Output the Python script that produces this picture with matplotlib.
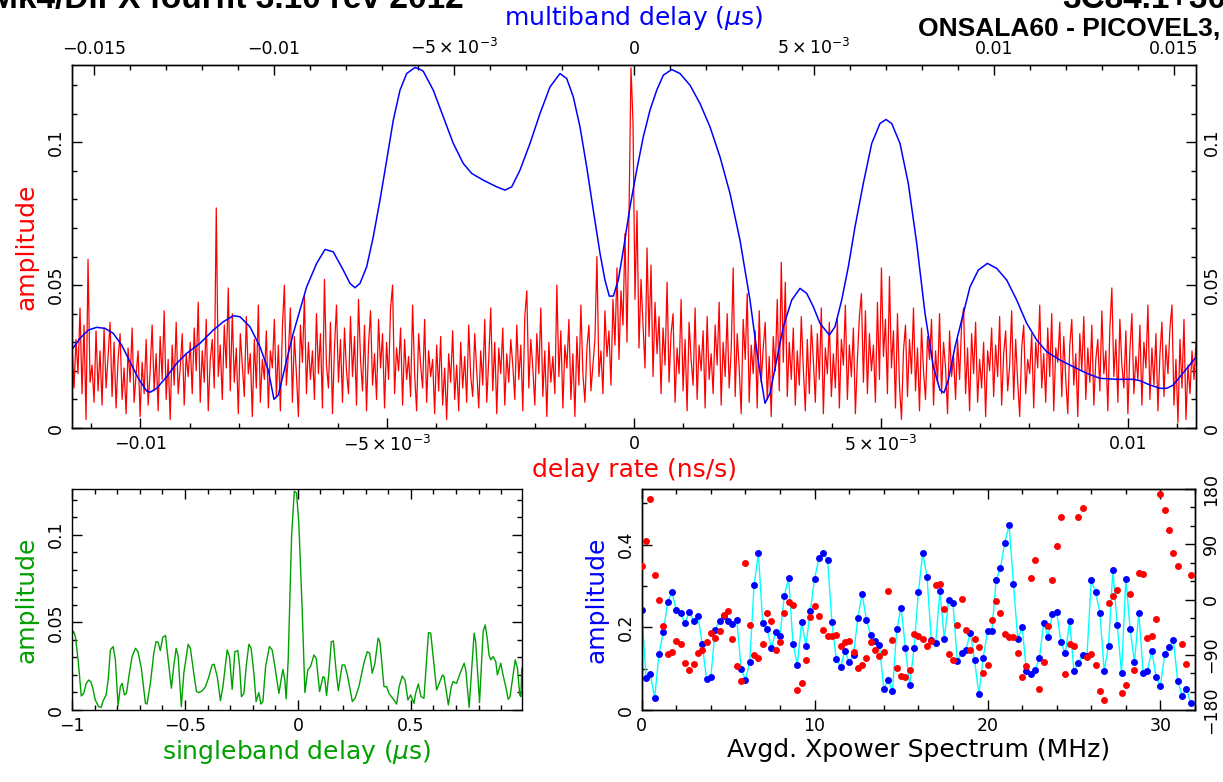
import numpy as np
import matplotlib
matplotlib.use('Agg')
import matplotlib.pyplot as plt
from matplotlib.ticker import MultipleLocator, FuncFormatter

plt.rcParams['font.family'] = ['DejaVu Sans']
plt.rcParams['mathtext.fontset'] = 'dejavusans'

RED = '#ff0000'
BLUE = '#0000ff'
GREEN = '#00a000'
CYAN = '#00ffff'

RATE_LIM = 0.01138     # delay rate half range (ns/s)
MBD_LIM = 0.01561      # multiband delay half range (us)

# delay rate amplitude, evenly spaced over +-RATE_LIM
rate_amp = [
    0.028, 0.014, 0.031, 0.019, 0.042, 0.012, 0.036, 0.003, 0.059, 0.016, 0.022, 0.009, 0.034, 0.013, 0.027, 0.008, 0.035, 0.014, 0.025, 0.037,
    0.011, 0.030, 0.007, 0.024, 0.033, 0.010, 0.021, 0.005, 0.028, 0.016, 0.035, 0.009, 0.019, 0.027, 0.004, 0.023, 0.012, 0.031, 0.008, 0.020,
    0.036, 0.013, 0.026, 0.006, 0.032, 0.017, 0.041, 0.010, 0.024, 0.003, 0.029, 0.015, 0.037, 0.012, 0.021, 0.033, 0.008, 0.026, 0.018, 0.030,
    0.012, 0.035, 0.020, 0.044, 0.009, 0.027, 0.016, 0.038, 0.006, 0.024, 0.031, 0.014, 0.077, 0.018, 0.029, 0.010, 0.036, 0.021, 0.049, 0.013,
    0.040, 0.016, 0.028, 0.005, 0.033, 0.022, 0.011, 0.039, 0.019, 0.026, 0.004, 0.031, 0.014, 0.043, 0.009, 0.024, 0.017, 0.034, 0.007, 0.027,
    0.021, 0.038, 0.011, 0.029, 0.006, 0.035, 0.050, 0.015, 0.026, 0.042, 0.009, 0.032, 0.019, 0.004, 0.036, 0.023, 0.046, 0.012, 0.030, 0.017,
    0.027, 0.010, 0.040, 0.019, 0.033, 0.007, 0.052, 0.022, 0.014, 0.037, 0.005, 0.028, 0.043, 0.016, 0.031, 0.009, 0.035, 0.020, 0.012, 0.039,
    0.018, 0.032, 0.008, 0.045, 0.024, 0.013, 0.036, 0.006, 0.029, 0.041, 0.015, 0.026, 0.010, 0.038, 0.021, 0.033, 0.007, 0.030, 0.017, 0.042,
    0.050, 0.012, 0.028, 0.020, 0.035, 0.008, 0.031, 0.017, 0.025, 0.011, 0.043, 0.019, 0.006, 0.033, 0.022, 0.014, 0.038, 0.009, 0.027, 0.018,
    0.024, 0.005, 0.029, 0.013, 0.032, 0.008, 0.021, 0.003, 0.026, 0.016, 0.034, 0.010, 0.022, 0.006, 0.030, 0.014, 0.025, 0.009, 0.036, 0.018,
    0.011, 0.033, 0.020, 0.007, 0.027, 0.015, 0.038, 0.009, 0.024, 0.042, 0.013, 0.030, 0.005, 0.028, 0.019, 0.035, 0.008, 0.026, 0.016, 0.031,
    0.022, 0.010, 0.036, 0.017, 0.029, 0.006, 0.039, 0.048, 0.014, 0.031, 0.021, 0.008, 0.033, 0.019, 0.042, 0.011, 0.027, 0.004, 0.030, 0.016,
    0.025, 0.012, 0.050, 0.018, 0.034, 0.007, 0.029, 0.021, 0.038, 0.010, 0.026, 0.004, 0.032, 0.015, 0.043, 0.019, 0.009, 0.028, 0.036, 0.013,
    0.022, 0.031, 0.060, 0.018, 0.027, 0.012, 0.041, 0.025, 0.034, 0.015, 0.045, 0.029, 0.056, 0.024, 0.048, 0.036, 0.068, 0.030, 0.074, 0.126,
    0.107, 0.045, 0.076, 0.028, 0.052, 0.036, 0.021, 0.063, 0.032, 0.057, 0.018, 0.044, 0.026, 0.039, 0.012, 0.035, 0.022, 0.051, 0.016, 0.033,
    0.040, 0.009, 0.028, 0.019, 0.045, 0.013, 0.031, 0.006, 0.037, 0.024, 0.015, 0.042, 0.010, 0.029, 0.020, 0.034, 0.007, 0.039, 0.017, 0.026,
    0.012, 0.036, 0.022, 0.044, 0.008, 0.030, 0.018, 0.040, 0.014, 0.027, 0.056, 0.011, 0.033, 0.021, 0.005, 0.038, 0.024, 0.047, 0.009, 0.029,
    0.019, 0.034, 0.007, 0.041, 0.016, 0.028, 0.037, 0.010, 0.025, 0.004, 0.032, 0.020, 0.045, 0.013, 0.058, 0.023, 0.051, 0.011, 0.030, 0.017,
    0.035, 0.008, 0.027, 0.015, 0.039, 0.021, 0.006, 0.031, 0.012, 0.036, 0.024, 0.009, 0.033, 0.017, 0.042, 0.005, 0.028, 0.019, 0.037, 0.011,
    0.026, 0.014, 0.038, 0.007, 0.031, 0.022, 0.043, 0.010, 0.029, 0.018, 0.035, 0.005, 0.024, 0.039, 0.047, 0.016, 0.041, 0.012, 0.033, 0.020,
    0.029, 0.009, 0.044, 0.017, 0.056, 0.025, 0.038, 0.012, 0.053, 0.021, 0.034, 0.007, 0.040, 0.015, 0.003, 0.027, 0.036, 0.011, 0.031, 0.019,
    0.042, 0.013, 0.028, 0.006, 0.035, 0.020, 0.010, 0.032, 0.024, 0.038, 0.008, 0.027, 0.016, 0.040, 0.012, 0.030, 0.021, 0.005, 0.034, 0.018,
    0.025, 0.010, 0.031, 0.017, 0.036, 0.042, 0.012, 0.028, 0.006, 0.033, 0.019, 0.037, 0.009, 0.024, 0.014, 0.030, 0.004, 0.027, 0.020, 0.035,
    0.011, 0.029, 0.018, 0.039, 0.008, 0.026, 0.034, 0.013, 0.022, 0.041, 0.010, 0.031, 0.016, 0.004, 0.028, 0.036, 0.012, 0.024, 0.019, 0.033,
    0.007, 0.030, 0.021, 0.043, 0.014, 0.026, 0.009, 0.035, 0.018, 0.040, 0.006, 0.028, 0.023, 0.037, 0.011, 0.032, 0.017, 0.005, 0.029, 0.038,
    0.015, 0.026, 0.004, 0.033, 0.020, 0.039, 0.010, 0.028, 0.016, 0.036, 0.008, 0.024, 0.031, 0.013, 0.041, 0.019, 0.027, 0.006, 0.035, 0.049,
    0.018, 0.031, 0.009, 0.038, 0.022, 0.014, 0.034, 0.005, 0.027, 0.040, 0.012, 0.025, 0.017, 0.036, 0.008, 0.030, 0.021, 0.043, 0.010, 0.028,
    0.015, 0.033, 0.006, 0.026, 0.037, 0.011, 0.029, 0.019, 0.035, 0.043, 0.008, 0.024, 0.002, 0.031, 0.014, 0.038, 0.003, 0.022, 0.012, 0.027,
    0.017, 0.030,
]

# multiband delay amplitude
mbd_x = [
    -0.015619, -0.015389, -0.015158, -0.014925, -0.014694, -0.014464, -0.014231, -0.014000, -0.013769, -0.013536,
    -0.013444, -0.013258, -0.012981, -0.012703, -0.012425, -0.012056, -0.011686, -0.011408, -0.011131, -0.010944,
    -0.010667, -0.010389, -0.010158, -0.010000, -0.009880, -0.009647, -0.009464, -0.009278, -0.009092, -0.008814,
    -0.008583, -0.008353, -0.008075, -0.007889, -0.007750, -0.007611, -0.007425, -0.007242, -0.007056, -0.006869,
    -0.006686, -0.006500, -0.006314, -0.006083, -0.005944, -0.005853, -0.005575, -0.005297, -0.005019, -0.004742,
    -0.004508, -0.004186, -0.003814, -0.003583, -0.003397, -0.003167, -0.002889, -0.002611, -0.002333, -0.002056,
    -0.001869, -0.001686, -0.001500, -0.001314, -0.001131, -0.000944, -0.000806, -0.000686, -0.000575, -0.000436,
    -0.000297, -0.000111, 0.000075, 0.000258, 0.000444, 0.000631, 0.000814, 0.001047, 0.001278, 0.001556,
    0.001833, 0.002111, 0.002389, 0.002667, 0.002944, 0.003222, 0.003408, 0.003547, 0.003639, 0.003778,
    0.003964, 0.004147, 0.004381, 0.004611, 0.004797, 0.004981, 0.005167, 0.005425, 0.005583, 0.005769,
    0.005953, 0.006139, 0.006369, 0.006603, 0.006833, 0.007000, 0.007158, 0.007389, 0.007619, 0.007853,
    0.008083, 0.008314, 0.008500, 0.008611, 0.008730, 0.008917, 0.009147, 0.009333, 0.009564, 0.009814,
    0.010075, 0.010353, 0.010630, 0.010908, 0.011186, 0.011464, 0.011833, 0.012203, 0.012575, 0.012944,
    0.013408, 0.013870, 0.014056, 0.014333, 0.014611, 0.014797, 0.014980, 0.015167, 0.015353, 0.015583,
]
mbd_amp = [
    0.02727, 0.03136, 0.03427, 0.03521, 0.03486, 0.03311, 0.02902, 0.02318, 0.01738, 0.01294,
    0.01248, 0.01388, 0.01794, 0.02262, 0.02612, 0.02962, 0.03427, 0.03717, 0.03927, 0.03892,
    0.03542, 0.02843, 0.02028, 0.01003, 0.01154, 0.02378, 0.03311, 0.04126, 0.04941, 0.05759,
    0.06248, 0.06164, 0.05524, 0.05059, 0.04906, 0.05059, 0.05640, 0.06689, 0.07972, 0.09371,
    0.10769, 0.11818, 0.12402, 0.12612, 0.12550, 0.12480, 0.11818, 0.10885, 0.09955, 0.09255,
    0.08906, 0.08671, 0.08437, 0.08322, 0.08437, 0.09021, 0.09955, 0.11003, 0.11934, 0.12402,
    0.12227, 0.11584, 0.10535, 0.09136, 0.07622, 0.06108, 0.05175, 0.04615, 0.04615, 0.05175,
    0.06224, 0.07738, 0.09021, 0.10185, 0.11119, 0.11818, 0.12343, 0.12542, 0.12402, 0.11993,
    0.11353, 0.10535, 0.09486, 0.08206, 0.06573, 0.04476, 0.02727, 0.01563, 0.00864, 0.01213,
    0.02378, 0.03542, 0.04476, 0.04885, 0.04710, 0.04241, 0.03661, 0.03252, 0.03542, 0.04476,
    0.05640, 0.07038, 0.08556, 0.09955, 0.10654, 0.10794, 0.10654, 0.09955, 0.08556, 0.06458,
    0.04010, 0.02143, 0.01329, 0.01234, 0.01678, 0.02843, 0.04010, 0.04941, 0.05524, 0.05759,
    0.05584, 0.05175, 0.04476, 0.03661, 0.03077, 0.02668, 0.02378, 0.02143, 0.01913, 0.01738,
    0.01703, 0.01703, 0.01654, 0.01503, 0.01388, 0.01388, 0.01503, 0.01794, 0.02087, 0.02437,
]

# singleband delay amplitude
sbd_x = [
    -1.000, -0.993, -0.985, -0.973, -0.959, -0.948, -0.938, -0.926, -0.917, -0.908,
    -0.897, -0.882, -0.871, -0.862, -0.849, -0.840, -0.830, -0.818, -0.808, -0.796,
    -0.786, -0.778, -0.768, -0.759, -0.746, -0.734, -0.719, -0.708, -0.693, -0.675,
    -0.668, -0.653, -0.638, -0.628, -0.619, -0.609, -0.598, -0.586, -0.576, -0.560,
    -0.549, -0.539, -0.530, -0.516, -0.505, -0.486, -0.476, -0.461, -0.449, -0.439,
    -0.424, -0.409, -0.394, -0.380, -0.371, -0.357, -0.343, -0.332, -0.313, -0.303,
    -0.291, -0.279, -0.266, -0.258, -0.250, -0.239, -0.229, -0.217, -0.207, -0.195,
    -0.185, -0.173, -0.164, -0.155, -0.143, -0.126, -0.114, -0.103, -0.084, -0.072,
    -0.066, -0.058, -0.052, -0.043, -0.028, -0.016, -0.006, 0.004, 0.019, 0.031,
    0.044, 0.056, 0.071, 0.081, 0.096, 0.111, 0.118, 0.127, 0.137, 0.148,
    0.157, 0.170, 0.179, 0.196, 0.207, 0.219, 0.241, 0.253, 0.270, 0.292,
    0.307, 0.318, 0.329, 0.341, 0.355, 0.363, 0.381, 0.393, 0.403, 0.425,
    0.437, 0.448, 0.462, 0.474, 0.487, 0.499, 0.514, 0.521, 0.533, 0.545,
    0.558, 0.578, 0.588, 0.603, 0.614, 0.640, 0.647, 0.666, 0.679, 0.687,
    0.702, 0.718, 0.736, 0.743, 0.758, 0.780, 0.787, 0.804, 0.820, 0.829,
    0.839, 0.846, 0.854, 0.864, 0.876, 0.883, 0.898, 0.908, 0.920, 0.931,
    0.939, 0.962, 0.972, 0.982, 0.987, 0.991,
]
sbd_amp = [
    0.0429, 0.0448, 0.0419, 0.0286, 0.0080, 0.0095, 0.0149, 0.0171, 0.0162, 0.0124,
    0.0057, 0.0019, 0.0015, 0.0053, 0.0086, 0.0171, 0.0343, 0.0362, 0.0286, 0.0023,
    0.0133, 0.0152, 0.0086, 0.0095, 0.0210, 0.0305, 0.0352, 0.0333, 0.0238, 0.0038,
    0.0034, 0.0152, 0.0324, 0.0390, 0.0387, 0.0339, 0.0415, 0.0425, 0.0305, 0.0124,
    0.0257, 0.0352, 0.0305, 0.0019, 0.0210, 0.0375, 0.0352, 0.0210, 0.0105, 0.0099,
    0.0109, 0.0133, 0.0190, 0.0257, 0.0261, 0.0190, 0.0053, 0.0133, 0.0343, 0.0305,
    0.0118, 0.0333, 0.0339, 0.0248, 0.0076, 0.0095, 0.0248, 0.0375, 0.0352, 0.0210,
    0.0048, 0.0099, 0.0034, 0.0048, 0.0248, 0.0362, 0.0343, 0.0257, 0.0095, 0.0190,
    0.0232, 0.0171, 0.0063, 0.0286, 0.0990, 0.1248, 0.1238, 0.1067, 0.0571, 0.0099,
    0.0229, 0.0248, 0.0314, 0.0295, 0.0105, 0.0190, 0.0185, 0.0082, 0.0210, 0.0390,
    0.0394, 0.0210, 0.0110, 0.0257, 0.0257, 0.0200, 0.0048, 0.0067, 0.0133, 0.0267,
    0.0333, 0.0324, 0.0210, 0.0267, 0.0410, 0.0390, 0.0133, 0.0133, 0.0095, 0.0057,
    0.0034, 0.0133, 0.0194, 0.0171, 0.0057, 0.0086, 0.0038, 0.0095, 0.0149, 0.0076,
    0.0067, 0.0442, 0.0438, 0.0248, 0.0114, 0.0200, 0.0190, 0.0029, 0.0133, 0.0162,
    0.0152, 0.0210, 0.0267, 0.0229, 0.0015, 0.0438, 0.0390, 0.0042, 0.0448, 0.0486,
    0.0400, 0.0314, 0.0286, 0.0305, 0.0276, 0.0200, 0.0267, 0.0200, 0.0133, 0.0061,
    0.0076, 0.0286, 0.0238, 0.0086, 0.0076, 0.0238,
]

# averaged cross power spectrum, 128 channels of 0.25 MHz
xp_amp = [
    0.242, 0.078, 0.087, 0.029, 0.136, 0.188, 0.262, 0.285, 0.242, 0.235,
    0.210, 0.238, 0.215, 0.228, 0.160, 0.075, 0.080, 0.194, 0.215, 0.228,
    0.215, 0.208, 0.218, 0.100, 0.073, 0.117, 0.303, 0.379, 0.210, 0.196,
    0.151, 0.188, 0.180, 0.277, 0.319, 0.160, 0.110, 0.212, 0.156, 0.240,
    0.318, 0.367, 0.381, 0.363, 0.213, 0.124, 0.104, 0.144, 0.115, 0.134,
    0.223, 0.281, 0.217, 0.182, 0.166, 0.157, 0.051, 0.072, 0.045, 0.195,
    0.248, 0.151, 0.060, 0.149, 0.285, 0.379, 0.323, 0.169, 0.161, 0.289,
    0.171, 0.266, 0.260, 0.119, 0.137, 0.145, 0.187, 0.121, 0.038, 0.127,
    0.191, 0.191, 0.315, 0.344, 0.405, 0.447, 0.306, 0.171, 0.202, 0.095,
    0.087, 0.097, 0.125, 0.211, 0.177, 0.232, 0.238, 0.164, 0.137, 0.216,
    0.095, 0.113, 0.133, 0.130, 0.315, 0.285, 0.236, 0.094, 0.156, 0.339,
    0.206, 0.090, 0.317, 0.196, 0.115, 0.236, 0.090, 0.095, 0.144, 0.079,
    0.059, 0.135, 0.152, 0.169, 0.070, 0.035, 0.052, 0.018,
]
xp_phase = [
    55, 96, 163, 40, -1, -43, -89, -86, -67, -72,
    -104, -115, -105, -87, -83, -70, -54, -63, -52, -26,
    -18, -65, -108, -132, 59, -41, -91, -96, -73, -22,
    -35, -83, -70, -22, -4, -9, -147, -136, -99, -29,
    -11, -27, -50, -60, -60, -58, -75, -70, -68, -86,
    -111, -107, -95, -70, -82, -92, -85, 14, -66, -111,
    -124, -127, -115, -57, -59, -64, -76, -67, 24, 25,
    -15, -88, -99, -41, 1, -49, -83, -64, -78, -119,
    -106, -33, -3, -22, -57, -61, -61, -87, -127, -109,
    35, 65, -146, -102, -43, 32, 87, 135, -122, -73,
    -76, 134, 149, -93, -88, -107, -149, -164, -6, 6,
    16, -153, -139, 9, -115, 43, 42, -62, -60, -31,
    172, 146, 114, 76, 55, -72, -105, 40,
]

TICK_FS = 12.5
LABEL_FS = 18


def num_fmt(v, pos):
    if abs(v) < 1e-12:
        return '0'
    if abs(round(abs(v), 7) - 0.005) < 1e-9:
        return r'$-5\times10^{-3}$' if v < 0 else r'$5\times10^{-3}$'
    return ('%g' % round(v, 6)).replace('-', '\u2212')


def style_ticks(ax, **kw):
    ax.tick_params(which='both', direction='in', labelsize=TICK_FS, pad=5, **kw)
    ax.tick_params(which='major', length=7, width=1)
    ax.tick_params(which='minor', length=3.5, width=1)
    for s in ax.spines.values():
        s.set_linewidth(1)


def rotate_ylabels(ax):
    for lab in ax.get_yticklabels():
        lab.set_rotation(90)
        lab.set_va('center')


fig = plt.figure(figsize=(12.23, 7.82), dpi=100)

# ---------- top panel: delay rate + multiband delay ----------
ax = fig.add_axes([72 / 1223, 1 - 428 / 782, 1124 / 1223, 363 / 782])
rate_x = np.linspace(-RATE_LIM, RATE_LIM, len(rate_amp))
ax.plot(rate_x, rate_amp, color=RED, lw=0.9)
ax.set_xlim(-RATE_LIM, RATE_LIM)
ax.set_ylim(0, 0.127)
ax.xaxis.set_major_locator(MultipleLocator(0.005))
ax.xaxis.set_minor_locator(MultipleLocator(0.001))
ax.xaxis.set_major_formatter(FuncFormatter(num_fmt))
ax.yaxis.set_major_locator(MultipleLocator(0.05))
ax.yaxis.set_minor_locator(MultipleLocator(0.01))
ax.yaxis.set_major_formatter(FuncFormatter(num_fmt))
style_ticks(ax, top=False, right=True, labelright=True)
ax.set_xlabel('delay rate (ns/s)', color=RED, fontsize=LABEL_FS, labelpad=2)
ax.set_ylabel('amplitude', color=RED, fontsize=LABEL_FS, labelpad=6)
rotate_ylabels(ax)

ax_top = ax.twiny()
ax_top.plot(mbd_x, mbd_amp, color=BLUE, lw=1.1)
ax_top.set_xlim(-MBD_LIM, MBD_LIM)
ax_top.xaxis.set_major_locator(MultipleLocator(0.005))
ax_top.xaxis.set_minor_locator(MultipleLocator(0.001))
ax_top.xaxis.set_major_formatter(FuncFormatter(num_fmt))
style_ticks(ax_top)
ax_top.set_xlabel(r'multiband delay ($\mu$s)', color=BLUE, fontsize=LABEL_FS)
# label sits well above the top tick labels, as in the original
ax_top.xaxis.set_label_coords(0.5, (428 - 18) / 363)
ax_top.xaxis.label.set_va('center')

# ---------- bottom left: singleband delay ----------
ax_sb = fig.add_axes([72 / 1223, 1 - 710 / 782, 450 / 1223, 221 / 782])
ax_sb.plot(sbd_x, sbd_amp, color=GREEN, lw=1.0)
ax_sb.set_xlim(-1, 0.992)
ax_sb.set_ylim(0, 0.1261)
ax_sb.xaxis.set_major_locator(MultipleLocator(0.5))
ax_sb.xaxis.set_minor_locator(MultipleLocator(0.1))
ax_sb.xaxis.set_major_formatter(FuncFormatter(num_fmt))
ax_sb.yaxis.set_major_locator(MultipleLocator(0.05))
ax_sb.yaxis.set_minor_locator(MultipleLocator(0.01))
ax_sb.yaxis.set_major_formatter(FuncFormatter(num_fmt))
style_ticks(ax_sb, top=True, right=True)
ax_sb.set_xlabel(r'singleband delay ($\mu$s)', color=GREEN, fontsize=LABEL_FS, labelpad=2)
ax_sb.set_ylabel('amplitude', color=GREEN, fontsize=LABEL_FS, labelpad=6)
rotate_ylabels(ax_sb)

# ---------- bottom right: cross power spectrum ----------
ax_xp = fig.add_axes([641.7 / 1223, 1 - 710 / 782, 553.3 / 1223, 221 / 782])
freq = np.arange(len(xp_amp)) * 0.25
ax_xp.plot(freq, xp_amp, color=CYAN, lw=1.0, zorder=2)
ax_xp.plot(freq, xp_amp, 'o', color=BLUE, ms=5, mew=0, zorder=3)
ax_xp.set_xlim(0, 32)
ax_xp.set_ylim(0, 0.535)
ax_xp.xaxis.set_major_locator(MultipleLocator(10))
ax_xp.xaxis.set_minor_locator(MultipleLocator(2))
ax_xp.yaxis.set_major_locator(MultipleLocator(0.2))
ax_xp.yaxis.set_minor_locator(MultipleLocator(0.1))
ax_xp.yaxis.set_major_formatter(FuncFormatter(num_fmt))
style_ticks(ax_xp, top=True, right=False)
ax_xp.set_xlabel('Avgd. Xpower Spectrum (MHz)', color='black', fontsize=LABEL_FS, labelpad=2)
ax_xp.set_ylabel('amplitude', color=BLUE, fontsize=LABEL_FS, labelpad=6)
rotate_ylabels(ax_xp)

ax_ph = ax_xp.twinx()
ax_ph.plot(freq, xp_phase, 'o', color=RED, ms=5, mew=0, zorder=4)
ax_ph.set_ylim(-180, 180)
ax_ph.yaxis.set_major_locator(MultipleLocator(90))
ax_ph.yaxis.set_minor_locator(MultipleLocator(30))
ax_ph.yaxis.set_major_formatter(FuncFormatter(num_fmt))
style_ticks(ax_ph)
rotate_ylabels(ax_ph)

# ---------- header text (partly off the page, like the original) ----------
fig.text(-10 / 1223, 1 - 8 / 782, 'Mk4/DiFX fourfit 3.10 rev 2012',
         family='Liberation Sans', weight='bold', fontsize=24, va='baseline')
fig.text(1062 / 1223, 1 - 8 / 782, '3C84.1+30GC',
         family='Liberation Sans', weight='bold', fontsize=24, va='baseline')
fig.text(918 / 1223, 1 - 36 / 782, 'ONSALA60 - PICOVEL3, fgroup X, pol LL',
         family='Liberation Sans', weight='bold', fontsize=19, va='baseline')

fig.savefig('out.png', dpi=100)
